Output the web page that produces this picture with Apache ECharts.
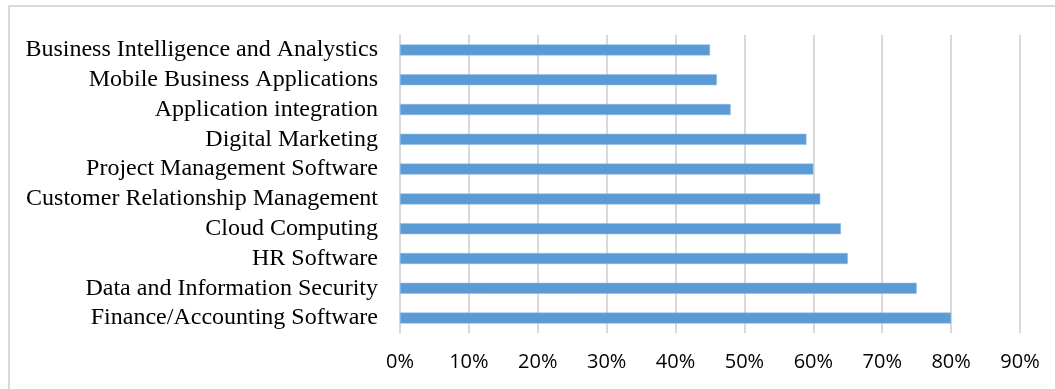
<!DOCTYPE html>
<html>
<head>
<meta charset="utf-8">
<script src="https://cdn.jsdelivr.net/npm/echarts@6/dist/echarts.min.js"></script>
<style>
  html, body { margin: 0; padding: 0; background: #fff; }
  #frame {
    position: absolute; left: 8px; top: 5px; right: 0; bottom: 0;
    border-top: 2px solid #d9d9d9; border-left: 2px solid #d9d9d9;
  }
  #chart { position: absolute; left: 0; top: 0; width: 1055px; height: 389px; }
</style>
</head>
<body>
<div id="frame"></div>
<div id="chart"></div>
<script>
// categories listed bottom to top
var categories = [
  'Finance/Accounting Software',
  'Data and Information Security',
  'HR Software',
  'Cloud Computing',
  'Customer Relationship Management',
  'Project Management Software',
  'Digital Marketing',
  'Application integration',
  'Mobile Business Applications',
  'Business Intelligence and Analystics'
];
var values = [80, 75, 65, 64, 61, 60, 59, 48, 46, 45];
var axisMax = 90;
var axisStep = 10;

var chart = echarts.init(document.getElementById('chart'));
chart.setOption({
  animation: false,
  grid: { left: 400, right: 35, top: 35, bottom: 56 },
  xAxis: {
    type: 'value',
    min: 0,
    max: axisMax,
    interval: axisStep,
    axisLine: { show: false },
    axisTick: { show: false },
    splitLine: { show: true, lineStyle: { color: '#d9d9d9', width: 2 } },
    axisLabel: {
      formatter: '{value}%',
      fontFamily: 'Open Sans',
      fontSize: 20,
      color: '#000',
      margin: 19
    }
  },
  yAxis: {
    type: 'category',
    data: categories,
    axisLine: { show: true, lineStyle: { color: '#d9d9d9', width: 2 } },
    axisTick: { show: false },
    axisLabel: {
      interval: 0,
      fontFamily: 'Liberation Serif',
      fontSize: 24,
      color: '#000',
      margin: 22
    }
  },
  series: [{
    type: 'bar',
    data: values,
    barWidth: 11,
    itemStyle: { color: '#5b9bd5', borderColor: '#8dbbe6', borderWidth: 0.5 }
  }]
});
</script>
</body>
</html>
